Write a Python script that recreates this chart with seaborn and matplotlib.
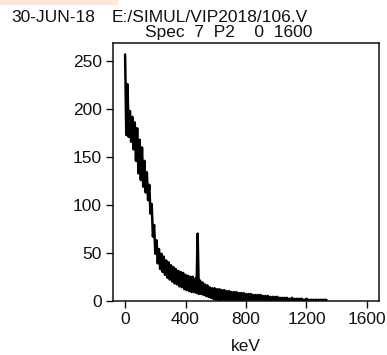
import numpy as np
import pandas as pd
import matplotlib
matplotlib.use("Agg")
import matplotlib.pyplot as plt
import seaborn as sns
from matplotlib.patches import Rectangle

# channel energies (keV), 8 keV bins
energy_keV = list(range(0, 1344, 8))
counts = [
    257, 173, 226, 171, 198, 166, 192, 158, 186, 146,
    180, 133, 168, 126, 160, 119, 146, 113, 134, 105,
    121, 91, 101, 67, 79, 49, 63, 39, 54, 33,
    49, 30, 46, 27, 42, 24, 40, 22, 37, 20,
    35, 18, 33, 17, 31, 15, 30, 14, 29, 12,
    27, 11, 26, 10, 25, 9, 25, 9, 23, 8,
    70, 7, 21, 7, 19, 6, 17, 5, 16, 4,
    14, 3, 13, 2, 13, 1, 12, 1, 12, 0,
    11, 1, 11, 0, 10, 1, 10, 0, 9, 0,
    9, 1, 9, 0, 8, 0, 8, 1, 8, 0,
    7, 0, 7, 1, 7, 0, 6, 0, 6, 0,
    6, 1, 6, 0, 5, 0, 5, 0, 5, 0,
    4, 0, 4, 0, 4, 0, 4, 0, 3, 0,
    3, 0, 3, 0, 3, 0, 2, 0, 3, 0,
    2, 0, 2, 0, 2, 0, 2, 0, 1, 0,
    2, 0, 1, 0, 1, 0, 1, 0, 1, 0,
    1, 0, 1, 0, 1, 0, 1, 0,
]
x_ticks = [0, 400, 800, 1200, 1600]
y_ticks = [0, 50, 100, 150, 200, 250]
header_left = "30-JUN-18"
header_file = "E:/SIMUL/VIP2018/106.V"
header_spec = "Spec  7  P2    0  1600"
x_label = "keV"

df = pd.DataFrame({"keV": energy_keV, "counts": counts})

sns.set_style("ticks")
plt.rcParams["font.family"] = ["Liberation Sans", "DejaVu Sans"]

fig = plt.figure(figsize=(3.87, 3.55), dpi=100)
ax = fig.add_axes([113 / 387, 1 - 300.7 / 355, (379 - 113) / 387, (300.7 - 43) / 355])

sns.lineplot(data=df, x="keV", y="counts", ax=ax, color="black",
             linewidth=1.8, estimator=None, sort=False)

ax.set_xlim(-80, 1680)
ax.set_ylim(0, 269)
ax.set_xticks(x_ticks)
ax.set_yticks(y_ticks)
ax.set_xlabel(x_label, fontsize=12.5, labelpad=9, color="#111111")
ax.set_ylabel("")
ax.tick_params(axis="both", direction="out", length=5, width=1, labelsize=12.5,
               colors="#111111", pad=3)
for s in ax.spines.values():
    s.set_visible(True)
    s.set_linewidth(1.1)
    s.set_color("#111111")
ax.tick_params(top=False, right=False)

fig.text(11 / 387, 1 - 17 / 355, header_left, fontsize=12.5, va="center", ha="left", color="#111111")
fig.text(112 / 387, 1 - 17 / 355, header_file, fontsize=12.5, va="center", ha="left", color="#111111")
fig.text(145 / 387, 1 - 32 / 355, header_spec, fontsize=12.5, va="center", ha="left", color="#111111")

fig.patches.append(Rectangle((0, 1 - 5 / 355), 118 / 387, 5 / 355,
                             transform=fig.transFigure, facecolor="#fde9dc",
                             edgecolor="none", figure=fig))

fig.savefig("out.png", dpi=100)
